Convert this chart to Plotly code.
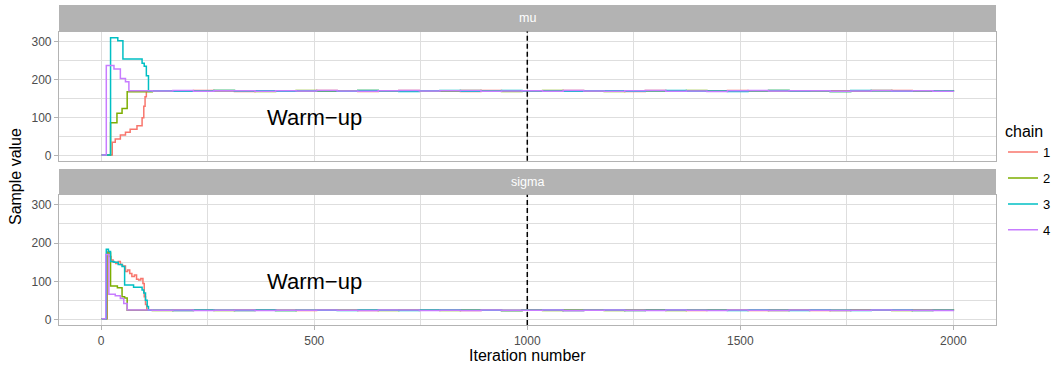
import numpy as np
import plotly.graph_objects as go

W, H = 1061, 365
chains = ["1", "2", "3", "4"]
colors = ["#F8766D", "#7CAE00", "#00BFC4", "#C77CFF"]
params = ["mu", "sigma"]

# ---- warm-up phase (iteration, value) per chain ----
mu_warm_iter = {
    "1": [1, 26, 33, 45, 57, 68, 84, 96, 100, 103, 106],
    "2": [1, 22, 37, 49, 61],
    "3": [1, 22, 39, 51, 96, 101, 106, 111],
    "4": [1, 12, 30, 45, 57, 65],
}
mu_warm_val = {
    "1": [2, 36, 44, 55, 62, 70, 79, 100, 130, 155, 170],
    "2": [2, 87, 112, 124, 168],
    "3": [2, 310, 302, 254, 243, 235, 210, 170],
    "4": [2, 237, 228, 203, 194, 171],
}
sigma_warm_iter = {
    "1": [1, 14, 18, 23, 28, 34, 40, 45, 50, 57, 62, 67, 72, 78, 83, 88, 93, 98, 101, 104, 107],
    "2": [1, 13, 22, 38, 49, 55, 61],
    "3": [1, 12, 17, 22, 30, 40, 49, 55, 76, 96, 100, 104, 108, 111],
    "4": [1, 11, 18, 33, 45, 53, 61],
}
sigma_warm_val = {
    "1": [3, 178, 165, 156, 150, 147, 152, 144, 140, 126, 130, 121, 113, 117, 106, 104, 108, 95, 60, 40, 25],
    "2": [3, 174, 88, 84, 60, 57, 25],
    "3": [3, 184, 178, 152, 150, 144, 139, 91, 85, 78, 70, 51, 35, 25],
    "4": [3, 170, 67, 63, 56, 43, 26],
}

# ---- stationary phase samples (iterations 120..2000) ----
mu_tail = {
    "1": [170.4,169.2,171.3,170.1,168.8,171.0,170.5,169.6,171.7,170.2,169.0,170.8,171.4,169.8,170.3,168.9,171.2,170.6,169.4,170.9,
          171.5,169.7,170.0,168.7,171.1,170.4,169.3,170.7,171.6,169.9,170.2,169.1,171.0,170.5,169.5,170.8,171.3,169.6,170.1,170.3],
    "2": [169.8,170.9,169.5,171.2,170.3,168.9,170.6,171.4,169.7,170.0,171.1,169.2,170.5,170.8,169.4,171.6,170.2,169.0,170.7,171.3,
          169.6,170.4,168.8,171.0,170.1,169.9,171.5,170.3,169.3,170.6,171.2,169.8,170.0,168.9,170.9,171.4,169.5,170.2,170.7,169.7],
    "3": [170.6,169.4,170.2,171.5,169.9,170.7,169.1,171.0,170.4,169.7,171.3,170.0,168.9,170.8,171.2,169.5,170.3,171.7,169.8,170.1,
          169.2,171.0,170.6,169.6,170.9,171.4,169.3,170.2,168.8,170.7,171.1,169.9,170.4,169.0,171.3,170.5,169.7,170.8,170.0,169.4],
    "4": [170.1,171.2,169.6,170.5,171.0,169.3,170.8,169.9,171.4,170.2,169.1,170.6,171.3,169.8,170.4,171.6,169.5,170.0,170.9,169.2,
          171.1,170.3,169.7,170.7,171.5,169.4,170.1,168.9,170.8,171.2,169.8,170.5,171.0,169.6,170.3,171.4,169.9,170.6,169.3,170.4],
}
sigma_tail = {
    "1": [25.3,24.6,25.8,25.1,24.4,25.6,25.0,24.8,26.0,25.2,24.5,25.7,24.9,25.4,26.1,24.7,25.3,24.3,25.9,25.0,
          24.6,25.5,25.2,24.8,26.2,25.1,24.4,25.6,25.0,24.7,25.8,25.3,24.5,25.4,25.9,24.9,25.1,24.6,25.7,25.2],
    "2": [24.8,25.5,25.1,24.3,25.9,25.0,24.6,25.4,25.8,24.9,25.2,24.4,25.7,25.1,24.7,26.0,25.3,24.8,25.5,24.5,
          25.9,25.0,24.6,25.6,25.2,24.3,25.8,25.1,24.9,25.4,24.6,26.1,25.0,24.7,25.5,25.3,24.4,25.7,25.0,24.8],
    "3": [25.1,24.5,25.7,25.2,24.8,25.9,24.6,25.3,25.0,24.4,25.8,25.1,24.7,25.6,26.0,24.9,25.2,24.5,25.4,25.9,
          24.8,25.0,25.7,24.6,25.3,26.1,24.9,25.1,24.4,25.6,25.2,24.7,25.8,25.0,24.5,25.5,25.9,24.8,25.3,25.1],
    "4": [25.0,25.6,24.7,25.3,25.9,24.5,25.2,24.9,25.7,25.1,24.4,25.5,26.0,24.8,25.3,24.6,25.8,25.1,24.9,25.6,
          24.3,25.4,25.9,25.0,24.7,25.5,25.2,24.6,26.1,25.0,24.8,25.7,25.3,24.5,25.4,25.8,24.9,25.2,24.6,25.1],
}
tail_start, tail_end = 120, 2000
warmup_end = 1000
x_ticks = [0, 500, 1000, 1500, 2000]
y_ticks = [0, 100, 200, 300]

FONT = "Liberation Sans, Arial, Helvetica, sans-serif"
GRID = "#DEDEDE"
BORDER = "#B3B3B3"

# layout geometry (pixels -> paper)
def px_x(p): return p / W
def px_y(p): return 1 - p / H

xdom = [px_x(59), px_x(996)]
mu_dom = [px_y(161.7), px_y(31.7)]
sg_dom = [px_y(326.7), px_y(195.7)]
mu_strip = [px_y(31.7), px_y(5)]
sg_strip = [px_y(195.7), px_y(170)]

fig = go.Figure()
data = {
    "mu": (mu_warm_iter, mu_warm_val, mu_tail, "x2", "y2"),
    "sigma": (sigma_warm_iter, sigma_warm_val, sigma_tail, "x", "y"),
}
for pi, p in enumerate(params):
    wi, wv, tl, xa, ya = data[p]
    for c, col in zip(chains, colors):
        xs = list(wi[c]) + list(np.linspace(tail_start, tail_end, len(tl[c])))
        ys = list(wv[c]) + list(tl[c])
        fig.add_trace(go.Scatter(
            x=xs, y=ys, mode="lines", line=dict(color=col, width=1.5, shape="hv"),
            name=c, legendgroup=c, showlegend=(p == "mu"),
            xaxis=xa, yaxis=ya, hoverinfo="skip"))

axis_common = dict(
    showline=True, mirror=True, linecolor=BORDER, linewidth=1.1,
    showgrid=True, gridcolor=GRID, gridwidth=1, zeroline=False,
    tickfont=dict(family=FONT, size=12, color="#4D4D4D"),
    tickcolor=BORDER, ticklen=4, tickwidth=1,
)
yr = [-13, 326]
xr = [-99, 2100]
fig.update_layout(
    width=W, height=H, margin=dict(l=0, r=0, t=0, b=0),
    paper_bgcolor="white", plot_bgcolor="white",
    font=dict(family=FONT),
    xaxis=dict(domain=xdom, anchor="y", range=xr, tickvals=x_ticks, ticks="outside",
               ticklabelstandoff=1,
               minor=dict(dtick=250, tick0=0, showgrid=True, gridcolor=GRID, gridwidth=0.6, ticks=""),
               **axis_common),
    xaxis2=dict(domain=xdom, anchor="y2", range=xr, tickvals=x_ticks, ticks="", showticklabels=False,
                matches="x",
                minor=dict(dtick=250, tick0=0, showgrid=True, gridcolor=GRID, gridwidth=0.6, ticks=""),
                **axis_common),
    yaxis=dict(domain=sg_dom, anchor="x", range=yr, tickvals=y_ticks, ticks="outside",
               ticklabelstandoff=0,
               minor=dict(dtick=50, tick0=0, showgrid=True, gridcolor=GRID, gridwidth=0.6, ticks=""),
               **axis_common),
    yaxis2=dict(domain=mu_dom, anchor="x2", range=yr, tickvals=y_ticks, ticks="outside",
                ticklabelstandoff=0,
                minor=dict(dtick=50, tick0=0, showgrid=True, gridcolor=GRID, gridwidth=0.6, ticks=""),
                **axis_common),
    legend=dict(x=px_x(1003), y=px_y(117), xanchor="left", yanchor="top",
                title=dict(text="chain", font=dict(family=FONT, size=16, color="black")),
                font=dict(family=FONT, size=13, color="black"),
                tracegroupgap=6, bgcolor="rgba(0,0,0,0)", itemwidth=30),
    showlegend=True,
)

shapes = []
annotations = []
for dom, strip, label in [(mu_dom, mu_strip, "mu"), (sg_dom, sg_strip, "sigma")]:
    shapes.append(dict(type="rect", xref="paper", yref="paper", x0=xdom[0], x1=xdom[1],
                       y0=strip[0], y1=strip[1], fillcolor=BORDER, line=dict(width=0), layer="below"))
    annotations.append(dict(xref="paper", yref="paper", x=(xdom[0] + xdom[1]) / 2,
                            y=(strip[0] + strip[1]) / 2, text=label, showarrow=False,
                            font=dict(family=FONT, size=12.5, color="white"),
                            xanchor="center", yanchor="middle"))
for xa, ya in [("x2", "y2"), ("x", "y")]:
    shapes.append(dict(type="line", xref=xa, yref=ya + " domain", x0=warmup_end, x1=warmup_end,
                       y0=0, y1=1, line=dict(color="black", width=1.5, dash="5px,3px")))
    annotations.append(dict(xref=xa, yref=ya, x=500, y=100, text="Warm\u2212up", showarrow=False,
                            font=dict(family=FONT, size=22, color="black"),
                            xanchor="center", yanchor="middle"))
annotations.append(dict(xref="paper", yref="paper", x=px_x(15), y=px_y(178), text="Sample value",
                        textangle=-90, showarrow=False, font=dict(family=FONT, size=16, color="black"),
                        xanchor="center", yanchor="middle"))
annotations.append(dict(xref="paper", yref="paper", x=px_x(527), y=px_y(357), text="Iteration number",
                        showarrow=False, font=dict(family=FONT, size=16, color="black"),
                        xanchor="center", yanchor="middle"))
fig.update_layout(shapes=shapes, annotations=annotations)

fig.write_html("out.html", config={"displayModeBar": False},
               post_script="document.body.style.margin='0';document.body.style.overflow='hidden';")
